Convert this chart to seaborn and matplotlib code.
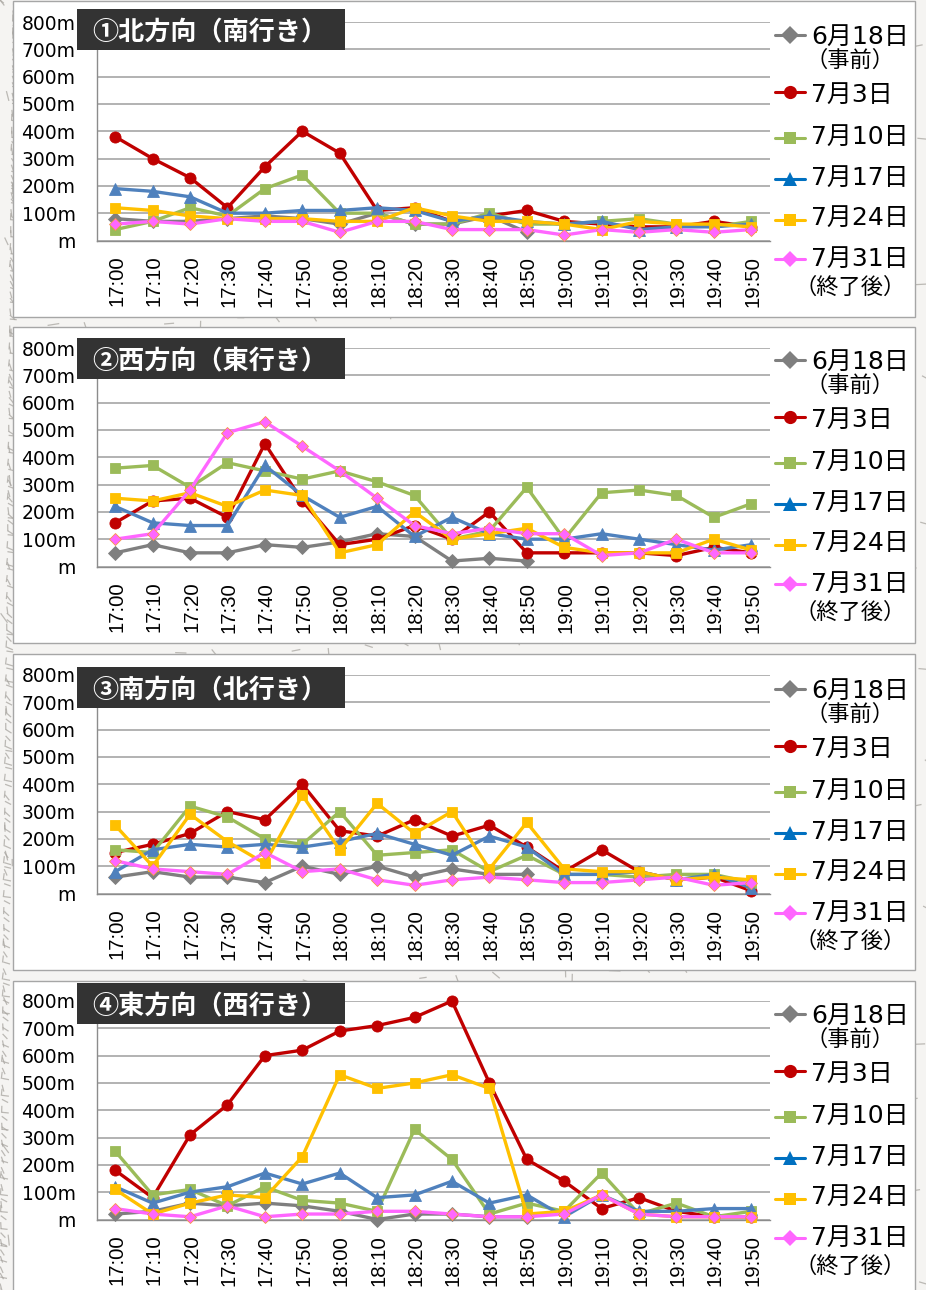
#!/usr/bin/env python
# -*- coding: utf-8 -*-
import numpy as np
import pandas as pd
import matplotlib
matplotlib.use('Agg')
import matplotlib.pyplot as plt
from matplotlib.collections import LineCollection
from matplotlib.lines import Line2D
from matplotlib.patches import Rectangle
from matplotlib.transforms import ScaledTranslation
import seaborn as sns

W, H = 926, 1290
nan = np.nan

times = ['17:00', '17:10', '17:20', '17:30', '17:40', '17:50', '18:00', '18:10', '18:20',
         '18:30', '18:40', '18:50', '19:00', '19:10', '19:20', '19:30', '19:40', '19:50']
days = ['6月18日', '7月3日', '7月10日', '7月17日', '7月24日', '7月31日']
titles = ['①北方向（南行き）', '②西方向（東行き）', '③南方向（北行き）', '④東方向（西行き）']
y_ticks = [0, 100, 200, 300, 400, 500, 600, 700, 800]
y_labels = ['m', '100m', '200m', '300m', '400m', '500m', '600m', '700m', '800m']

north = [
    [80, 70, 70, 80, 90, 80, 60, 100, 60, 60, 90, 30, nan, nan, nan, nan, nan, nan],
    [380, 300, 230, 120, 270, 400, 320, 110, 120, 70, 90, 110, 70, 60, 50, 50, 70, 50],
    [40, 70, 120, 90, 190, 240, 100, 100, 60, 60, 100, 60, 60, 70, 80, 60, 50, 70],
    [190, 180, 160, 100, 100, 110, 110, 120, 110, 70, 90, 70, 60, 70, 40, 50, 50, 60],
    [120, 110, 90, 80, 80, 80, 70, 70, 120, 90, 70, 70, 60, 40, 70, 60, 60, 50],
    [60, 70, 60, 80, 70, 70, 30, 70, 70, 40, 40, 40, 20, 40, 30, 40, 30, 40],
]
west = [
    [50, 80, 50, 50, 80, 70, 90, 120, 110, 20, 30, 20, nan, nan, nan, nan, nan, nan],
    [160, 240, 250, 180, 450, 240, 80, 100, 150, 100, 200, 50, 50, 50, 50, 40, 70, 50],
    [360, 370, 290, 380, 350, 320, 350, 310, 260, 100, 130, 290, 100, 270, 280, 260, 180, 230],
    [220, 160, 150, 150, 370, 260, 180, 220, 110, 180, 120, 100, 100, 120, 100, 80, 60, 80],
    [250, 240, 270, 220, 280, 260, 50, 80, 200, 100, 120, 140, 70, 50, 50, 50, 100, 60],
    [100, 120, 280, 490, 530, 440, 350, 250, 150, 120, 140, 120, 120, 40, 50, 100, 50, 50],
]
south = [
    [60, 80, 60, 60, 40, 100, 70, 100, 60, 90, 70, 70, nan, nan, nan, nan, nan, nan],
    [150, 180, 220, 300, 270, 400, 230, 210, 270, 210, 250, 170, 80, 160, 80, 50, 60, 10],
    [160, 150, 320, 280, 200, 180, 300, 140, 150, 160, 80, 140, 70, 70, 60, 70, 70, 40],
    [80, 160, 180, 170, 180, 170, 190, 220, 180, 140, 210, 170, 70, 70, 80, 50, 70, 20],
    [250, 100, 290, 190, 110, 360, 160, 330, 220, 300, 90, 260, 90, 80, 80, 50, 60, 50],
    [120, 90, 80, 70, 150, 80, 90, 50, 30, 50, 60, 50, 40, 40, 50, 60, 30, 40],
]
east = [
    [20, 30, 60, 50, 60, 50, 30, 0, 20, 20, 10, 10, nan, nan, nan, nan, nan, nan],
    [180, 80, 310, 420, 600, 620, 690, 710, 740, 800, 500, 220, 140, 40, 80, 30, 10, 10],
    [250, 90, 110, 50, 120, 70, 60, 30, 330, 220, 20, 60, 30, 170, 20, 60, 10, 30],
    [120, 60, 100, 120, 170, 130, 170, 80, 90, 140, 60, 90, 10, 90, 30, 30, 40, 40],
    [110, 20, 60, 90, 80, 230, 530, 480, 500, 530, 480, 20, 30, 90, 20, 10, 10, 10],
    [40, 20, 10, 50, 10, 20, 20, 30, 30, 20, 10, 10, 20, 90, 20, 10, 10, 10],
]
panels = [north, west, south, east]

line_colors = ['#7F7F7F', '#C00000', '#9BBB59', '#4F81BD', '#FFC000', '#FF66FF']
legend_colors = ['#7F7F7F', '#C00000', '#9BBB59', '#0070C0', '#FFC000', '#FF66FF']
markers = ['D', 'o', 's', '^', 's', 'D']
marker_sizes = [7.5, 8, 7.5, 9, 7.5, 6.5]

# pixel layout of each panel, measured from the top of the picture
box_tops = [1, 327, 654, 981]
top_800 = [22, 348, 675, 1001]
title_tops = [9, 338, 667, 983]
legend_tops = [35, 360, 689, 1014]

LABEL_FONT = ['DejaVu Sans', 'Noto Sans CJK JP']


def fig_x(px):
    return px / W


def fig_y(px):
    return 1 - px / H


def draw_background(fig):
    fig.patch.set_facecolor('#F5F4F2')
    # map-like hatching in the margins, only decoration behind the white boxes
    segs = []
    for k in range(700):
        x = 926 * ((k * 0.6180339) % 1)
        y = 1290 * ((k * 0.7548777) % 1)
        angle = 0.7 + 0.9 * np.sin(k * 1.7)
        size = 5 + 7 * abs(np.sin(k * 2.3))
        dx, dy = size * np.cos(angle), size * np.sin(angle)
        segs.append([(fig_x(x), fig_y(y)), (fig_x(x + dx), fig_y(y + dy))])
    for k in range(260):
        x = 13 * ((k * 0.6180339) % 1)
        y = 1290 * ((k * 0.3819660) % 1)
        angle = 0.9 + 0.8 * np.sin(k * 1.3)
        dx, dy = 7 * np.cos(angle), 7 * np.sin(angle)
        segs.append([(fig_x(x), fig_y(y)), (fig_x(x + dx), fig_y(y + dy))])
    fig.add_artist(LineCollection(segs, colors='#A8A5A0', linewidths=0.9, alpha=0.75, transform=fig.transFigure,
                                  zorder=0))


def draw_panel(fig, idx):
    box_top = box_tops[idx]
    box_h = 316 if idx < 3 else 340
    fig.add_artist(Rectangle((fig_x(12.5), fig_y(box_top + box_h)), 902 / W, box_h / H, facecolor='white',
                             edgecolor='#A6A6A6', lw=1, transform=fig.transFigure, zorder=1))

    ax = fig.add_axes([fig_x(96.5), fig_y(top_800[idx] + 218.5), 673.5 / W, 218.5 / H], zorder=2)
    ax.patch.set_alpha(0)
    df = pd.DataFrame(np.array(panels[idx]).T, columns=days)
    df['time'] = times
    df = df.melt(id_vars='time', var_name='day', value_name='dist').dropna()
    for i, day in enumerate(days):
        edge = '#F79646' if i == 5 else line_colors[i]
        sns.lineplot(data=df[df['day'] == day], x='time', y='dist', ax=ax, color=line_colors[i], lw=2.4,
                     marker=markers[i], markersize=marker_sizes[i], markeredgecolor=edge, markeredgewidth=0.6,
                     sort=False, errorbar=None, legend=False, clip_on=False, zorder=3 + i)

    ax.set_xlim(-0.5, 17.5)
    ax.set_ylim(0, 800)
    ax.set_xlabel('')
    ax.set_ylabel('')
    ax.set_xticks(range(len(times)))
    ax.set_xticklabels(times, rotation=90, fontsize=14.7, family=['Liberation Sans'], color='black')
    ax.set_xticks(np.arange(-0.5, 18, 1), minor=True)
    ax.tick_params(axis='x', which='major', length=0, pad=11)
    ax.tick_params(axis='x', which='minor', length=6, width=1, color='#A6A6A6')
    shift = ScaledTranslation(1.5 / 100, 0, fig.dpi_scale_trans)
    for label in ax.get_xticklabels():
        label.set_transform(label.get_transform() + shift)
    ax.set_yticks(y_ticks)
    ax.set_yticklabels(y_labels, fontsize=13.5, family=LABEL_FONT, color='black')
    ax.tick_params(axis='y', length=6, width=1, color='#A6A6A6', pad=9)
    ax.grid(axis='y', color='#A6A6A6', lw=1.2)
    ax.grid(axis='x', visible=False)
    ax.set_axisbelow(True)
    for side in ['top', 'right']:
        ax.spines[side].set_visible(False)
    for side in ['left', 'bottom']:
        ax.spines[side].set_color('#8C8C8C')
        ax.spines[side].set_linewidth(1)

    # dark title plate
    top = title_tops[idx]
    fig.add_artist(Rectangle((fig_x(77), fig_y(top + 41)), 268 / W, 41 / H, facecolor='#333333', edgecolor='none',
                             transform=fig.transFigure, zorder=5))
    fig.text(fig_x(92), fig_y(top + 24), titles[idx], color='white', fontsize=18.8, fontweight='bold', va='center',
             ha='left', family=['Noto Sans CJK JP'], zorder=6)

    draw_legend(fig, legend_tops[idx])


def draw_legend(fig, y0):
    handle_y = [0, 57, 103, 144, 185, 224]
    label_y = [2, 60, 102, 143, 183, 224]
    for i, day in enumerate(days):
        y = fig_y(y0 + handle_y[i])
        fig.add_artist(Line2D([fig_x(775), fig_x(805)], [y, y], color=legend_colors[i], lw=2.2, zorder=6))
        fig.add_artist(Line2D([fig_x(790)], [y], color=legend_colors[i], marker=markers[i],
                              markersize=marker_sizes[i] + 1.5, markeredgewidth=0, linestyle='none', zorder=7))
        fig.text(fig_x(811), fig_y(y0 + label_y[i]), day, fontsize=18, va='center', ha='left', family=LABEL_FONT,
                 color='black', zorder=6)
    fig.text(fig_x(850), fig_y(y0 + 25), '（事前）', fontsize=16, va='center', ha='center', family=LABEL_FONT,
             color='black', zorder=6)
    fig.text(fig_x(850), fig_y(y0 + 252), '（終了後）', fontsize=16, va='center', ha='center', family=LABEL_FONT,
             color='black', zorder=6)


def main():
    sns.set_theme(style='white')
    plt.rcParams['font.family'] = LABEL_FONT
    fig = plt.figure(figsize=(W / 100, H / 100), dpi=100)
    draw_background(fig)
    for idx in range(len(panels)):
        draw_panel(fig, idx)
    fig.savefig('out.png', dpi=100, facecolor=fig.get_facecolor())


if __name__ == '__main__':
    main()
